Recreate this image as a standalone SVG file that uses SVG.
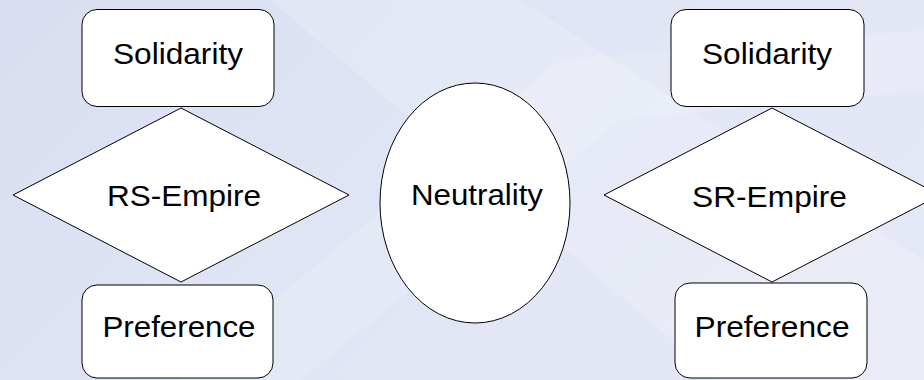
<svg xmlns="http://www.w3.org/2000/svg" width="924" height="380" viewBox="0 0 924 380">
<defs>
<linearGradient id="bg" x1="0" y1="0" x2="1" y2="0.4">
<stop offset="0" stop-color="#d8ddf1"/>
<stop offset="0.5" stop-color="#e0e5f5"/>
<stop offset="1" stop-color="#e4e8f6"/>
</linearGradient>
<style>
.box{fill:#ffffff;stroke:#000000;stroke-width:1}
.lbl{font-family:"Liberation Sans",Arial,sans-serif;font-size:30px;fill:#000000;text-anchor:middle}
</style>
</defs>
<rect x="0" y="0" width="924" height="380" fill="url(#bg)"/>
<polygon points="270,0 520,0 924,260 924,380 720,380" fill="#ffffff" opacity="0.18"/>
<polygon points="180,380 560,60 924,30 924,90 620,120 300,380" fill="#ffffff" opacity="0.15"/>
<g id="solidarity-left">
<rect class="box" x="82" y="9.5" width="192" height="97" rx="15"/>
<text class="lbl" x="178" y="64" textLength="130" lengthAdjust="spacingAndGlyphs">Solidarity</text>
</g>
<g id="rs-empire">
<polygon class="box" points="181,108 349,195 181,282 13,195"/>
<text class="lbl" x="184" y="206" textLength="154" lengthAdjust="spacingAndGlyphs">RS-Empire</text>
</g>
<g id="preference-left">
<rect class="box" x="82" y="285" width="191" height="93" rx="15"/>
<text class="lbl" x="179" y="337" textLength="153" lengthAdjust="spacingAndGlyphs">Preference</text>
</g>
<g id="neutrality">
<ellipse class="box" cx="475" cy="203" rx="95" ry="120"/>
<text class="lbl" x="477" y="205" textLength="132" lengthAdjust="spacingAndGlyphs">Neutrality</text>
</g>
<g id="solidarity-right">
<rect class="box" x="671" y="9.5" width="193" height="97" rx="15"/>
<text class="lbl" x="767" y="64" textLength="130" lengthAdjust="spacingAndGlyphs">Solidarity</text>
</g>
<g id="sr-empire">
<polygon class="box" points="772,108 940,195 772,282 604,195"/>
<text class="lbl" x="769.5" y="207" textLength="155" lengthAdjust="spacingAndGlyphs">SR-Empire</text>
</g>
<g id="preference-right">
<rect class="box" x="675" y="283" width="192" height="95" rx="15"/>
<text class="lbl" x="772" y="337" textLength="155" lengthAdjust="spacingAndGlyphs">Preference</text>
</g>
</svg>
